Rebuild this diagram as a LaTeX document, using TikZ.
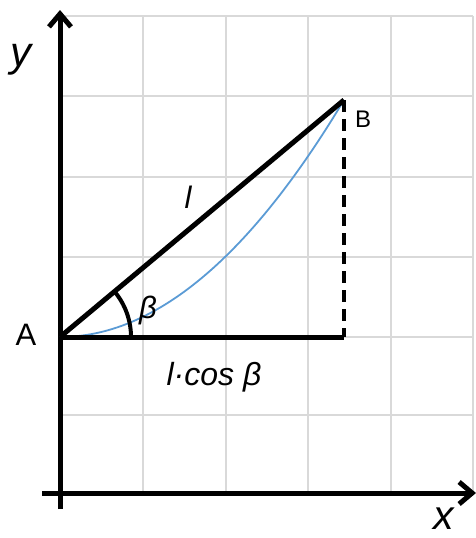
\documentclass[tikz,border=0pt]{standalone}
\usepackage{fontspec}
\setmainfont{Liberation Sans}
\usetikzlibrary{arrows.meta}
\definecolor{gridgray}{HTML}{D9D9D9}
\definecolor{curveblue}{HTML}{5B9BD5}
\begin{document}
\begin{tikzpicture}[x=1pt,y=-1pt,
  gridline/.style={draw=gridgray,line width=1.3pt},
  axisline/.style={line width=5pt,-{Straight Barb[length=13pt,width=22pt]}},
  thick line/.style={line width=5pt},
  lbl/.style={inner sep=0pt,text=black}]
\useasboundingbox (0,0) rectangle (476,538);
% grid
\foreach \gx in {143,226,308,391,473} \draw[gridline] (\gx,16) -- (\gx,493);
\foreach \gy in {16,96,177,257,337,415} \draw[gridline] (60,\gy) -- (473,\gy);
% points
\coordinate (A) at (60,337);
\coordinate (B) at (344,100);
\coordinate (C) at (344,337);
\coordinate (xs) at (42,493);
\coordinate (xe) at (476,493);
\coordinate (ys) at (60,509);
\coordinate (ye) at (60,10);
% axes
\draw[axisline] (xs) -- (xe);
\draw[axisline] (ys) -- (ye);
% curve (parabola through A and B, horizontal at A)
\draw[curveblue,line width=1.8pt] (A) .. controls (154.7,337) and (249.3,258) .. (B);
% triangle
\draw[thick line] (A) -- (B);
\draw[thick line] (A) -- (C);
\draw[line width=3.3pt,dash pattern=on 12pt off 7pt] (B) -- (C);
% angle arc
\draw[line width=4pt] (131,337) arc[start angle=0,end angle=-39.8,radius=71];
% labels
\node[lbl] (ylab) at (21,60) {\fontsize{42}{48}\selectfont\itshape y};
\node[lbl] (xlab) at (444,519) {\fontsize{41}{48}\selectfont\itshape x};
\node[lbl] (Alab) at (26,335) {\fontsize{31}{36}\selectfont A};
\node[lbl] (Blab) at (363,119) {\fontsize{24}{28}\selectfont B};
\node[lbl] (llab) at (188,197) {\fontsize{31}{36}\selectfont\itshape l};
\node[lbl] (betalab) at (148,310) {\fontsize{31}{36}\selectfont\itshape β};
\node[lbl,anchor=base] (proj) at (214,385) {\fontsize{32}{37}\selectfont\itshape l·cos β};
\end{tikzpicture}
\end{document}
